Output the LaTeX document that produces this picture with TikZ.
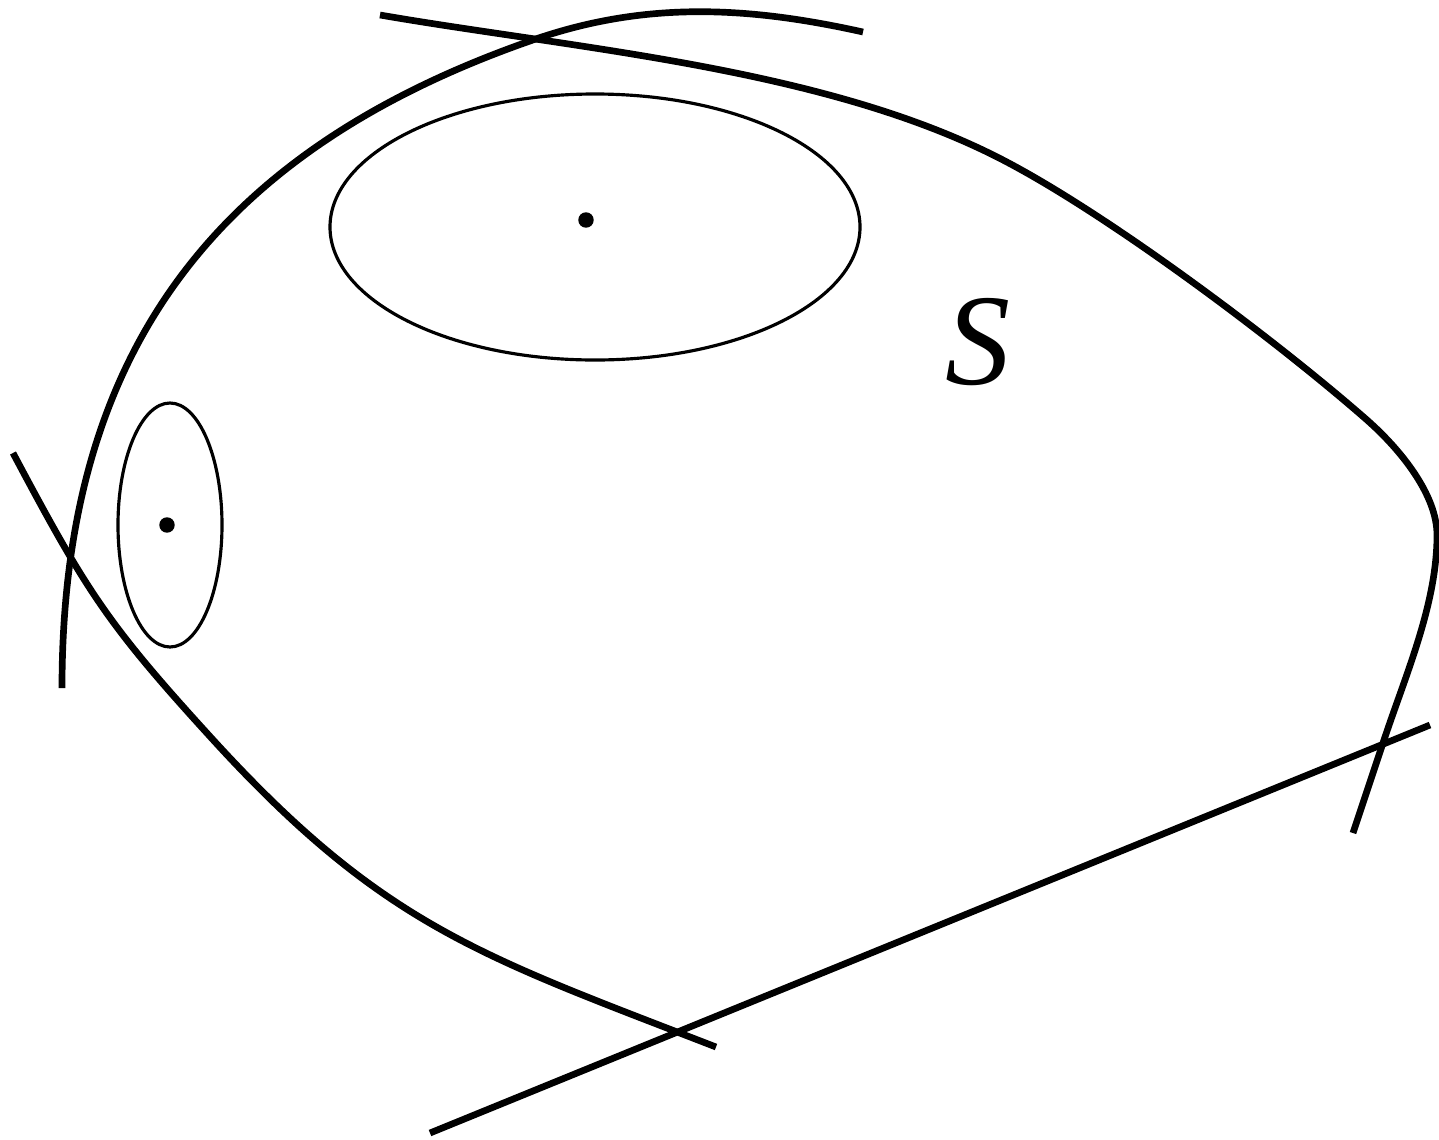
\documentclass[tikz,border=0pt]{standalone}
\usepackage{fontspec}
\newfontfamily\lblfont{Liberation Serif}
\usetikzlibrary{positioning}

\begin{document}
\begin{tikzpicture}[x=0.01cm,y=-0.01cm,
    bd/.style={line width=1.9pt},
    ov/.style={line width=0.9pt},
    pt/.style={fill=black}]
  \useasboundingbox (0,0) rectangle (1439,1139);
  % left arc
  \draw[bd] (62,688) .. controls (62,358) and (210,153) .. (530,41)
    .. controls (643,1) and (746,6) .. (863,32);
  % upper right boundary
  \draw[bd] (380,15) .. controls (577,49) and (826,68) .. (1003,160)
    .. controls (1109,215) and (1277,341) .. (1367,420)
    .. controls (1401,450) and (1437,495) .. (1437,535)
    .. controls (1437,605) and (1405,676) .. (1383,743)
    -- (1353,833);
  % lower left boundary
  \draw[bd] (13,453) .. controls (88,594) and (108,625) .. (216,743)
    .. controls (385,927) and (484,957) .. (716,1047);
  % bottom line
  \coordinate (d1) at (430,1133);
  \coordinate (d2) at (1430,725);
  \draw[bd] (d1) -- (d2);
  % ovals with their centres
  \draw[ov] (595,227) ellipse [x radius=265, y radius=133];
  \fill[pt] (586,220) circle [radius=2.2pt];
  \draw[ov] (170,525) ellipse [x radius=52, y radius=122];
  \fill[pt] (167,525) circle [radius=2.2pt];
  \node (lblS) at (978,342) {\fontsize{37}{44}\selectfont\lblfont\itshape S};
\end{tikzpicture}
\end{document}
